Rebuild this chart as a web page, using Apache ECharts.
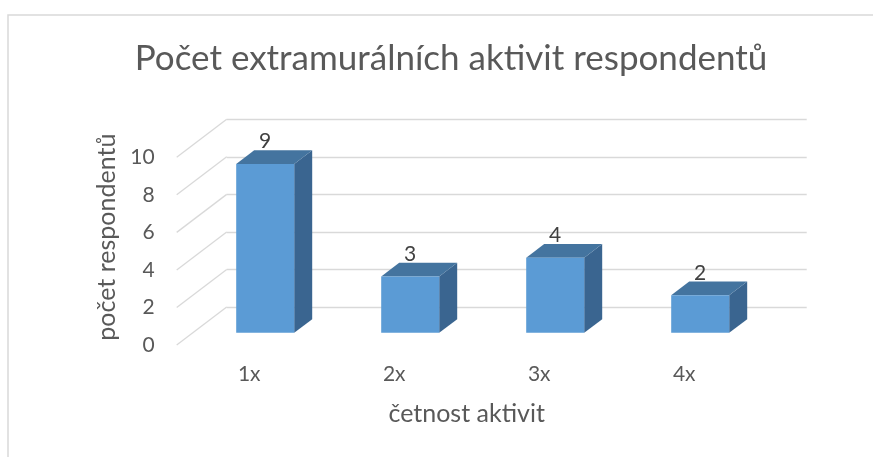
<!DOCTYPE html>
<html>
<head>
<meta charset="utf-8">
<script src="https://cdn.jsdelivr.net/npm/echarts@6/dist/echarts.min.js"></script>
<style>
html,body{margin:0;padding:0;background:#fff;}
#main{width:873px;height:457px;}
</style>
</head>
<body>
<div id="main"></div>
<script>
const categories = ['1x', '2x', '3x', '4x'];
const values = [9, 3, 4, 2];
const yTicks = [0, 2, 4, 6, 8, 10];
const titleText = 'Počet extramurálních aktivit respondentů';
const xAxisName = 'četnost aktivit';
const yAxisName = 'počet respondentů';

const FONT = 'Lato';
const TEXT = '#595959';
const GRID = '#d9d9d9';
// oblique depth of the plot box (px)
const DX = 50, DY = -38;
const BAR_FRONT = 0.32, BAR_BACK = 0.68, BAR_W = 0.4;

const chart = echarts.init(document.getElementById('main'), null, {renderer: 'canvas'});

function barItem(params, api) {
  const cat = api.value(0), v = api.value(1);
  const top = api.coord([cat, v]);
  const base = api.coord([cat, 0]);
  const bw = api.size([1, 0])[0] * BAR_W;
  const fx = top[0] - bw / 2 + DX * BAR_FRONT;
  const fyT = top[1] + DY * BAR_FRONT;
  const fyB = base[1] + DY * BAR_FRONT;
  const ddx = DX * (BAR_BACK - BAR_FRONT), ddy = DY * (BAR_BACK - BAR_FRONT);
  return {
    type: 'group',
    children: [
      {type: 'polygon', shape: {points: [[fx + bw, fyT], [fx + bw + ddx, fyT + ddy], [fx + bw + ddx, fyB + ddy], [fx + bw, fyB]]},
       style: {fill: '#3a6590'}},
      {type: 'polygon', shape: {points: [[fx, fyT], [fx + ddx, fyT + ddy], [fx + bw + ddx, fyT + ddy], [fx + bw, fyT]]},
       style: {fill: '#44749f'}},
      {type: 'rect', shape: {x: fx, y: fyT, width: bw, height: fyB - fyT},
       style: {fill: '#5b9bd5'}},
      {type: 'text', x: fx + bw / 2, y: fyT + ddy + 2,
       style: {text: String(v), align: 'center', verticalAlign: 'bottom', fill: '#404040', font: '21px ' + FONT}}
    ]
  };
}

function wallItem(params, api) {
  const v = api.value(0);
  const p = api.coord([0, v]);
  const bwFull = api.size([1, 0])[0];
  const x0 = p[0] - bwFull / 2;
  return {
    type: 'line',
    shape: {x1: x0, y1: p[1], x2: x0 + DX, y2: p[1] + DY},
    style: {stroke: GRID, lineWidth: 1.3}
  };
}

const option = {
  animation: false,
  backgroundColor: '#fff',
  title: {
    text: titleText,
    left: 451, top: 41, textAlign: 'center', padding: 0,
    textStyle: {fontFamily: FONT, fontWeight: 400, fontSize: 35, color: TEXT}
  },
  graphic: [{
    type: 'rect', shape: {x: 8, y: 15, width: 900, height: 500},
    style: {fill: 'none', stroke: GRID, lineWidth: 1.5}, z: -1
  }],
  grid: [
    {left: 176.7, top: 157.3, width: 580, height: 187.7},
    {left: 176.7 + DX, top: 157.3 + DY, width: 580, height: 187.7}
  ],
  xAxis: [
    {type: 'category', data: categories, gridIndex: 0,
     axisLine: {show: false}, axisTick: {show: false},
     axisLabel: {margin: 19, fontFamily: FONT, fontSize: 21, color: TEXT},
     name: xAxisName, nameLocation: 'middle', nameGap: 56,
     nameTextStyle: {fontFamily: FONT, fontSize: 25, color: TEXT}},
    {type: 'category', data: categories, gridIndex: 1, show: false}
  ],
  yAxis: [
    {type: 'value', min: 0, max: 10, interval: 2, gridIndex: 0,
     axisLine: {show: false}, axisTick: {show: false}, splitLine: {show: false},
     axisLabel: {margin: 22, fontFamily: FONT, fontSize: 21, color: TEXT},
     name: yAxisName, nameLocation: 'middle', nameGap: 56, nameRotate: 90,
     nameTextStyle: {fontFamily: FONT, fontSize: 25, color: TEXT, padding: [0, 0, 0, 28]}},
    {type: 'value', min: 0, max: 10, interval: 2, gridIndex: 1,
     axisLine: {show: false}, axisTick: {show: false}, axisLabel: {show: false},
     splitLine: {show: true, lineStyle: {color: GRID, width: 1.3}}}
  ],
  series: [
    {type: 'custom', xAxisIndex: 0, yAxisIndex: 0, renderItem: wallItem,
     data: yTicks.map(v => [v]), encode: {y: 0}, z: 1, silent: true},
    {type: 'custom', xAxisIndex: 0, yAxisIndex: 0, renderItem: barItem,
     data: categories.map((c, i) => [i, values[i]]), encode: {x: 0, y: 1}, z: 2, silent: true}
  ]
};
chart.setOption(option);
</script>
</body>
</html>
